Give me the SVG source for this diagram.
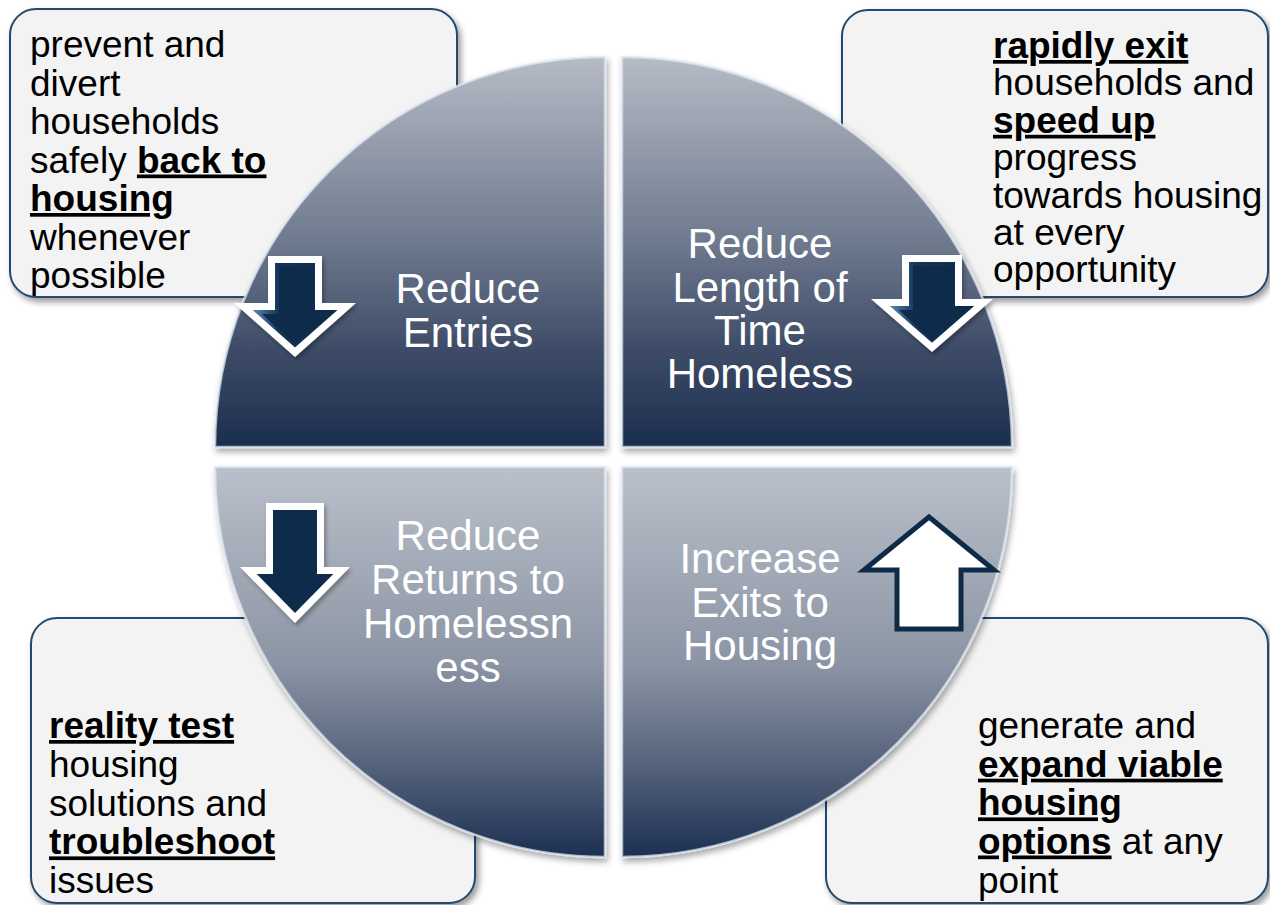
<svg xmlns="http://www.w3.org/2000/svg" width="1270" height="905" viewBox="0 0 1270 905">
  <defs>
    <linearGradient id="gradTop" x1="0" y1="0" x2="0" y2="1">
      <stop offset="0" stop-color="#b6bbc5"/>
      <stop offset="0.45" stop-color="#727d91"/>
      <stop offset="0.75" stop-color="#3e4c67"/>
      <stop offset="1" stop-color="#1a2d4e"/>
    </linearGradient>
    <linearGradient id="gradBottom" x1="0" y1="0" x2="0" y2="1">
      <stop offset="0" stop-color="#bac0ca"/>
      <stop offset="0.5" stop-color="#8c95a5"/>
      <stop offset="0.8" stop-color="#4d5b75"/>
      <stop offset="1" stop-color="#1c2f52"/>
    </linearGradient>
    <linearGradient id="bevelArrow" x1="0" y1="0" x2="1" y2="0">
      <stop offset="0" stop-color="#5c86b0"/>
      <stop offset="0.3" stop-color="#143559"/>
      <stop offset="1" stop-color="#0d2946"/>
    </linearGradient>
    <filter id="boxShadow" x="-10%" y="-10%" width="125%" height="125%">
      <feDropShadow dx="3" dy="4" stdDeviation="3" flood-color="#000" flood-opacity="0.4"/>
    </filter>
    <filter id="quadShadow" x="-10%" y="-10%" width="125%" height="125%">
      <feDropShadow dx="2" dy="4" stdDeviation="3" flood-color="#000" flood-opacity="0.35"/>
    </filter>
    <filter id="arrowShadow" x="-20%" y="-20%" width="150%" height="150%">
      <feDropShadow dx="2" dy="3" stdDeviation="2" flood-color="#000" flood-opacity="0.3"/>
    </filter>
  </defs>
  <style>
    .box { fill: #f3f3f3; stroke: #214a70; stroke-width: 2; filter: url(#boxShadow); }
    .note { font-family: "Liberation Sans", Arial, sans-serif; font-size: 37px; fill: #000; }
    .em { font-weight: bold; text-decoration: underline; }
    .quad { stroke: #dfe7f2; stroke-opacity: 0.75; stroke-width: 2.5; filter: url(#quadShadow); }
    .label { font-family: "Liberation Sans", Arial, sans-serif; font-size: 42px; fill: #ffffff; text-anchor: middle; }
    .arrowOuter { fill: #ffffff; filter: url(#arrowShadow); }
    .arrowInner { fill: #0e2b4b; }
    .arrowBevel { fill: url(#bevelArrow); }
    .arrowUp { fill: #ffffff; stroke: #0e2a47; stroke-width: 5; stroke-linejoin: miter; }
  </style>

  <!-- callout boxes (behind the circle) -->
  <g id="note-entries">
    <rect class="box" x="10" y="9" width="447" height="288" rx="26"/>
    <text class="note" x="30" y="57">prevent and</text>
    <text class="note" x="30" y="95.5">divert</text>
    <text class="note" x="30" y="134">households</text>
    <text class="note" x="30" y="172.5">safely <tspan class="em">back to</tspan></text>
    <text class="note" x="30" y="211"><tspan class="em">housing</tspan></text>
    <text class="note" x="30" y="249.5">whenever</text>
    <text class="note" x="30" y="288">possible</text>
  </g>
  <g id="note-length">
    <rect class="box" x="842" y="10" width="426" height="287" rx="26"/>
    <text class="note" x="993" y="58"><tspan class="em">rapidly exit</tspan></text>
    <text class="note" x="993" y="95.4">households and</text>
    <text class="note" x="993" y="132.8"><tspan class="em">speed up</tspan></text>
    <text class="note" x="993" y="170.2">progress</text>
    <text class="note" x="993" y="207.6">towards housing</text>
    <text class="note" x="993" y="245">at every</text>
    <text class="note" x="993" y="282.4">opportunity</text>
  </g>
  <g id="note-returns">
    <rect class="box" x="31" y="618" width="444" height="285" rx="26"/>
    <text class="note" x="49" y="738"><tspan class="em">reality test</tspan></text>
    <text class="note" x="49" y="776.8">housing</text>
    <text class="note" x="49" y="815.6">solutions and</text>
    <text class="note" x="49" y="854.4"><tspan class="em">troubleshoot</tspan></text>
    <text class="note" x="49" y="893.2">issues</text>
  </g>
  <g id="note-exits">
    <rect class="box" x="826" y="618" width="442" height="285" rx="26"/>
    <text class="note" x="978" y="738">generate and</text>
    <text class="note" x="978" y="776.7"><tspan class="em">expand viable</tspan></text>
    <text class="note" x="978" y="815.4"><tspan class="em">housing</tspan></text>
    <text class="note" x="978" y="853.5"><tspan class="em">options</tspan> at any</text>
    <text class="note" x="978" y="892.8">point</text>
  </g>

  <!-- four quarter-circle segments -->
  <g id="quad-entries">
    <path class="quad" fill="url(#gradTop)" d="M605,447 L215,447 A390,390 0 0 1 605,57 Z"/>
    <path class="arrowOuter" d="M268,256 H322 V303 H356 L295,357 L234,303 H268 Z"/>
    <path class="arrowBevel" d="M275,263 H315 V310 H337.5 L295,347.6 L252.5,310 H275 Z"/>
    <path class="arrowInner" d="M279,267 H313 V314 H331 L295,344 L262,314 H279 Z"/>
    <text class="label" x="468" y="303">Reduce</text>
    <text class="label" x="468" y="347">Entries</text>
  </g>
  <g id="quad-length">
    <path class="quad" fill="url(#gradTop)" d="M622,447 L622,57 A390,390 0 0 1 1012,447 Z"/>
    <path class="arrowOuter" d="M902,255 H962 V299 H993 L932,352 L871,299 H902 Z"/>
    <path class="arrowBevel" d="M909,262 H955 V306 H974.2 L932,342.7 L889.8,306 H909 Z"/>
    <path class="arrowInner" d="M913,266 H953 V310 H968 L932,340 L899,310 H913 Z"/>
    <text class="label" x="760" y="258">Reduce</text>
    <text class="label" x="760" y="302">Length of</text>
    <text class="label" x="760" y="345">Time</text>
    <text class="label" x="760" y="388">Homeless</text>
  </g>
  <g id="quad-returns">
    <path class="quad" fill="url(#gradBottom)" d="M605,467 L605,857 A390,390 0 0 1 215,467 Z"/>
    <path class="arrowOuter" d="M266,503 H324 V567 H350 L295,623 L240,567 H266 Z"/>
    <path class="arrowInner" d="M273,510 H317 V574 H333.3 L295,613 L256.7,574 H273 Z"/>
    <text class="label" x="468" y="550">Reduce</text>
    <text class="label" x="468" y="594">Returns to</text>
    <text class="label" x="468" y="638">Homelessn</text>
    <text class="label" x="468" y="682">ess</text>
  </g>
  <g id="quad-exits">
    <path class="quad" fill="url(#gradBottom)" d="M622,467 L1012,467 A390,390 0 0 1 622,857 Z"/>
    <path class="arrowUp" d="M929,517 L994,570 H961 V629 H897 V570 H864 Z"/>
    <text class="label" x="760" y="573">Increase</text>
    <text class="label" x="760" y="617">Exits to</text>
    <text class="label" x="760" y="660">Housing</text>
  </g>

  <!-- no connectors in this figure -->
  <g id="connectors"/>
</svg>
